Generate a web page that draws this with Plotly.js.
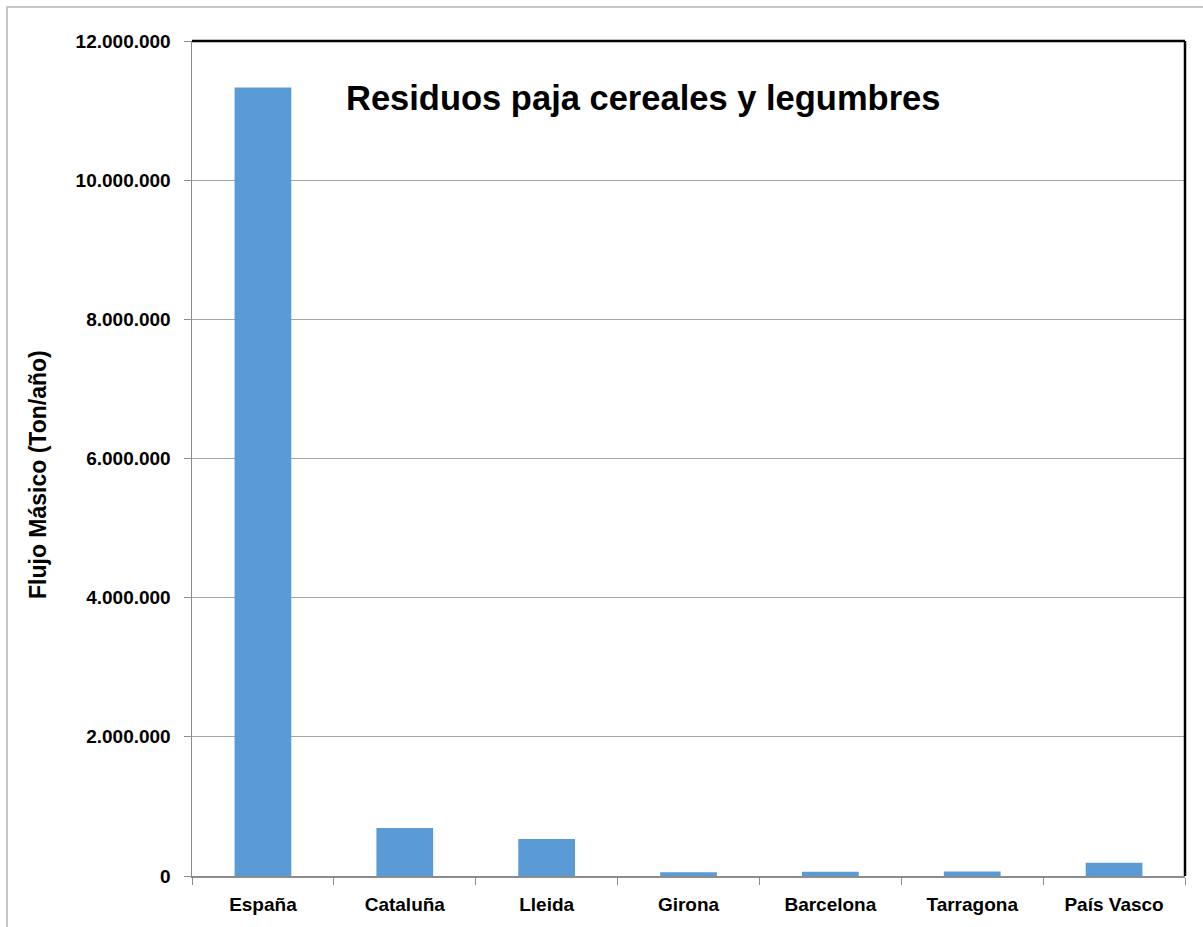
<!DOCTYPE html>
<html>
<head>
<meta charset="utf-8">
<script src="https://cdn.plot.ly/plotly-3.0.1.min.js"></script>
<style>
html,body{margin:0;padding:0;background:#fff;}
#chart{width:1203px;height:927px;}
</style>
</head>
<body>
<div id="chart"></div>
<script>
const categories = ["España", "Cataluña", "Lleida", "Girona", "Barcelona", "Tarragona", "País Vasco"];
const values = [11330000, 690000, 530000, 55000, 60000, 65000, 190000];
const yTicks = [0, 2000000, 4000000, 6000000, 8000000, 10000000, 12000000];
const chartTitle = "Residuos paja cereales y legumbres";
const yTitle = "Flujo Másico (Ton/año)";

const W = 1203, H = 927;
const ml = 192, mr = 18, mt = 41, mb = 51;
const pw = W - ml - mr, ph = H - mt - mb;
const font = "Liberation Sans, Arial, sans-serif";

const trace = {
  type: "bar",
  x: categories,
  y: values,
  marker: {color: "#5b9bd5", line: {width: 0}},
  hoverinfo: "x+y"
};

const layout = {
  width: W, height: H,
  margin: {l: ml, r: mr, t: mt, b: mb, pad: 0},
  paper_bgcolor: "#ffffff",
  plot_bgcolor: "#ffffff",
  separators: ",.",
  showlegend: false,
  bargap: 0.6,
  font: {family: font, color: "#000"},
  xaxis: {
    type: "category",
    showgrid: false,
    showline: true,
    linecolor: "#8c8c8c",
    linewidth: 1.5,
    ticks: "outside",
    tickson: "boundaries",
    ticklen: 7,
    tickcolor: "#8c8c8c",
    tickwidth: 1,
    ticklabelstandoff: 11,
    tickfont: {family: font, size: 19, weight: "bold", color: "#000"},
    zeroline: false,
    fixedrange: true
  },
  yaxis: {
    range: [0, 12000000],
    tickvals: yTicks,
    tickformat: ",d",
    showgrid: true,
    gridcolor: "#a6a6a6",
    gridwidth: 1,
    showline: true,
    linecolor: "#8c8c8c",
    linewidth: 1.5,
    ticks: "outside",
    ticklen: 7,
    tickcolor: "#8c8c8c",
    ticklabelstandoff: 9,
    tickfont: {family: font, size: 19, weight: "bold", color: "#000"},
    zeroline: false,
    fixedrange: true
  },
  shapes: [
    {type: "line", xref: "paper", yref: "paper", x0: 0, x1: 1, y0: 1, y1: 1, line: {color: "#000", width: 2.5}},
    {type: "line", xref: "paper", yref: "paper", x0: 1, x1: 1, y0: 0, y1: 1, line: {color: "#000", width: 2.5}},
    {type: "rect", xref: "paper", yref: "paper",
     x0: (7 - ml) / pw, x1: 1.2, y0: -0.2, y1: 1 + (mt - 7) / ph,
     line: {color: "#b4b4b4", width: 1.5}, fillcolor: "rgba(0,0,0,0)", layer: "below"}
  ],
  annotations: [
    {text: chartTitle, xref: "paper", yref: "paper",
     x: (643 - ml) / pw, y: 1 - (98 - mt) / ph, xanchor: "center", yanchor: "middle",
     showarrow: false, font: {family: font, size: 34.5, weight: "bold", color: "#000"}},
    {text: yTitle, xref: "paper", yref: "paper",
     x: (38 - ml) / pw, y: 1 - (475 - mt) / ph, xanchor: "center", yanchor: "middle",
     textangle: -90, showarrow: false, font: {family: font, size: 23, weight: "bold", color: "#000"}}
  ]
};

Plotly.newPlot("chart", [trace], layout, {displayModeBar: false, staticPlot: true});
</script>
</body>
</html>
